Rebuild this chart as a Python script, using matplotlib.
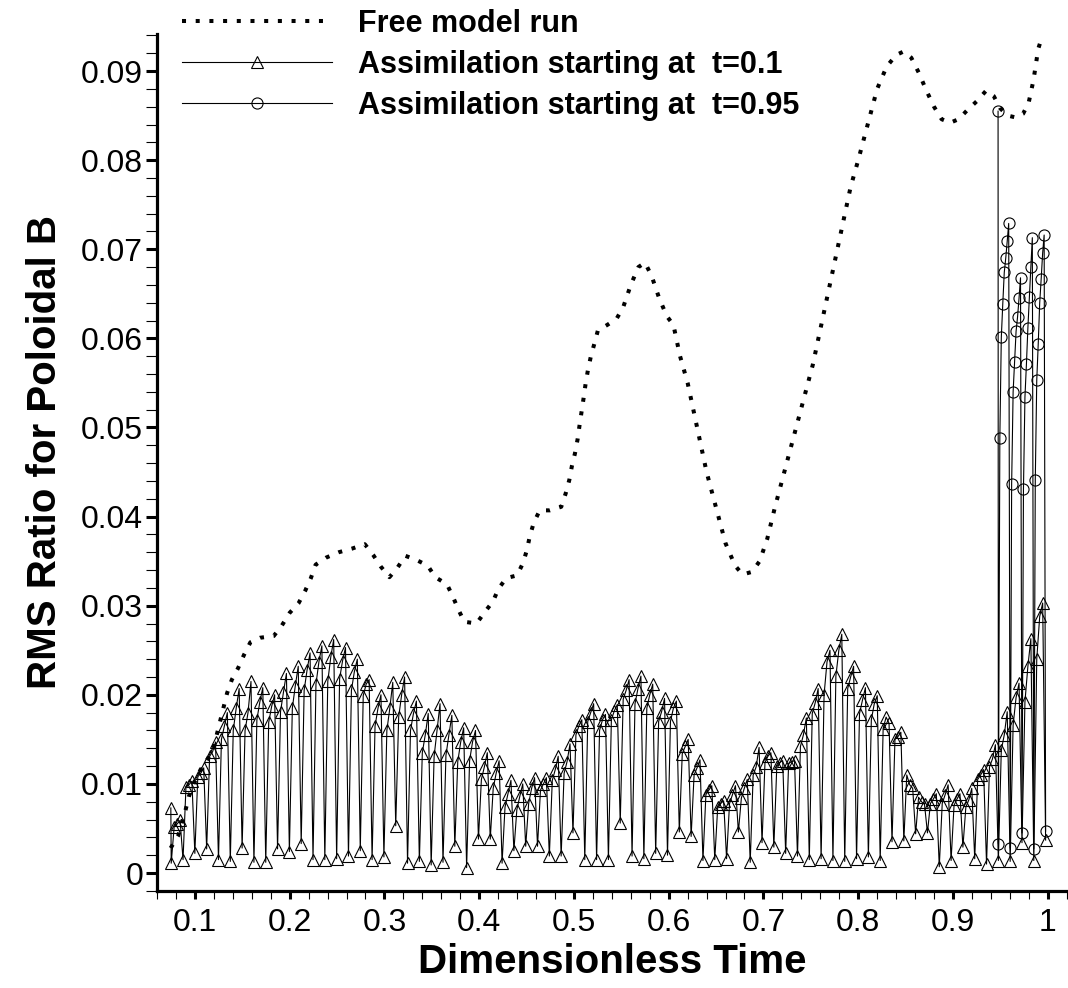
import numpy as np
import matplotlib
matplotlib.use("Agg")
import matplotlib.pyplot as plt
from matplotlib.ticker import MultipleLocator, FuncFormatter

plt.rcParams['font.family'] = ['Liberation Sans', 'DejaVu Sans']

### Free model run (dotted curve)
free_t = [0.0744, 0.0824, 0.0902, 0.0937, 0.0989, 0.106, 0.114, 0.120, 0.127, 0.134,
          0.139, 0.1456, 0.1519, 0.1586, 0.1687, 0.1832, 0.1919, 0.200, 0.2095, 0.2165,
          0.2224, 0.2274, 0.2386, 0.2519, 0.2656, 0.2793, 0.2881, 0.2961, 0.3053, 0.314,
          0.3221, 0.3344, 0.3456, 0.3537, 0.366, 0.3723, 0.3779, 0.3842, 0.3972, 0.406,
          0.4147, 0.4203, 0.4287, 0.440, 0.4463, 0.4505, 0.4534, 0.4576, 0.4639, 0.4747,
          0.4866, 0.4913, 0.4951, 0.4979, 0.5011, 0.5039, 0.506, 0.5081, 0.5102, 0.5123,
          0.5147, 0.5179, 0.5218, 0.5253, 0.535, 0.545, 0.552, 0.560, 0.568, 0.575,
          0.582, 0.590, 0.598, 0.605, 0.612, 0.620, 0.630, 0.640, 0.650, 0.660,
          0.670, 0.678, 0.688, 0.696, 0.704, 0.712, 0.722, 0.732, 0.742, 0.752,
          0.762, 0.772, 0.782, 0.792, 0.800, 0.810, 0.820, 0.830, 0.840, 0.848,
          0.856, 0.864, 0.872, 0.880, 0.888, 0.897, 0.906, 0.915, 0.925, 0.935,
          0.943, 0.950, 0.958, 0.966, 0.974, 0.980, 0.985, 0.990, 0.993]
free_rms = [0.0028, 0.0042, 0.0071, 0.0086, 0.0101, 0.0116, 0.0129, 0.0142, 0.0172, 0.0202,
            0.0217, 0.0230, 0.0245, 0.0259, 0.0264, 0.0266, 0.0278, 0.0292, 0.0303, 0.0317,
            0.0331, 0.0346, 0.0354, 0.0360, 0.0364, 0.0369, 0.0357, 0.0344, 0.0332, 0.0343,
            0.0356, 0.0351, 0.0345, 0.0332, 0.0324, 0.0310, 0.0296, 0.0282, 0.0280, 0.0293,
            0.0305, 0.0319, 0.0331, 0.0334, 0.0348, 0.0363, 0.0378, 0.0393, 0.0407, 0.0407,
            0.0411, 0.0426, 0.0441, 0.0457, 0.0471, 0.0487, 0.0503, 0.0518, 0.0533, 0.0549,
            0.0564, 0.0580, 0.0595, 0.0609, 0.0615, 0.0622, 0.0635, 0.0660, 0.0680, 0.0685,
            0.0670, 0.0645, 0.0625, 0.0615, 0.0580, 0.0550, 0.0500, 0.0450, 0.0410, 0.0370,
            0.0345, 0.0335, 0.0338, 0.0350, 0.0375, 0.0410, 0.0450, 0.0490, 0.0530, 0.0570,
            0.0620, 0.0670, 0.0720, 0.0770, 0.0800, 0.0840, 0.0880, 0.0905, 0.0918, 0.0922,
            0.0915, 0.0898, 0.0878, 0.0860, 0.0846, 0.0842, 0.0846, 0.0856, 0.0866, 0.0878,
            0.0872, 0.0858, 0.0850, 0.0848, 0.0852, 0.0865, 0.0890, 0.0925, 0.0935]

### Assimilation from t=0.1 : one analysis every cycle
cycle_start = 0.075
cycle_len = 0.01247
n_cycles = 75
tri_first = 0.0073
tri_low = [0.0011, 0.0015, 0.0022, 0.0027, 0.0015, 0.0013, 0.0028, 0.0012, 0.0012, 0.0027,
           0.0024, 0.0033, 0.0015, 0.0015, 0.0016, 0.0019, 0.0025, 0.0015, 0.0018, 0.0053,
           0.0011, 0.0013, 0.0009, 0.0012, 0.0030, 0.0006, 0.0038, 0.0038, 0.0011, 0.0025,
           0.0030, 0.0030, 0.0019, 0.0019, 0.0045, 0.0015, 0.0015, 0.0015, 0.0056, 0.0019,
           0.0016, 0.0022, 0.0020, 0.0046, 0.0041, 0.0014, 0.0015, 0.0016, 0.0046, 0.0012,
           0.0034, 0.0029, 0.0022, 0.0019, 0.0015, 0.0016, 0.0014, 0.0013, 0.0016, 0.0018,
           0.0014, 0.0035, 0.0036, 0.0044, 0.0045, 0.0007, 0.0014, 0.0029, 0.0016, 0.0010,
           0.0014, 0.0013, 0.0034, 0.0014, 0.0037]
tri_h1 = [0.0052, 0.0097, 0.0108, 0.0131, 0.0150, 0.0160, 0.0160, 0.0172, 0.0169, 0.0181,
          0.0185, 0.0205, 0.0212, 0.0215, 0.0218, 0.0205, 0.0199, 0.0165, 0.0160, 0.0175,
          0.0160, 0.0135, 0.0131, 0.0132, 0.0125, 0.0126, 0.0105, 0.0095, 0.0074, 0.0071,
          0.0078, 0.0093, 0.0104, 0.0112, 0.0155, 0.0170, 0.0160, 0.0172, 0.0195, 0.0190,
          0.0185, 0.0170, 0.0170, 0.0134, 0.0110, 0.0088, 0.0074, 0.0078, 0.0084, 0.0110,
          0.0124, 0.0120, 0.0123, 0.0142, 0.0179, 0.0200, 0.0221, 0.0207, 0.0179, 0.0172,
          0.0162, 0.0150, 0.0110, 0.0085, 0.0078, 0.0078, 0.0076, 0.0074, 0.0105, 0.0119,
          0.0138, 0.0166, 0.0192, 0.0240]
tri_h2 = [0.0055, 0.0099, 0.0112, 0.0136, 0.0165, 0.0185, 0.0180, 0.0192, 0.0187, 0.0203,
          0.0210, 0.0228, 0.0237, 0.0242, 0.0238, 0.0226, 0.0212, 0.0185, 0.0185, 0.0200,
          0.0179, 0.0155, 0.0160, 0.0155, 0.0147, 0.0147, 0.0119, 0.0112, 0.0089, 0.0086,
          0.0095, 0.0100, 0.0116, 0.0125, 0.0165, 0.0180, 0.0172, 0.0182, 0.0205, 0.0207,
          0.0200, 0.0181, 0.0185, 0.0142, 0.0118, 0.0093, 0.0078, 0.0088, 0.0095, 0.0119,
          0.0131, 0.0124, 0.0125, 0.0155, 0.0191, 0.0237, 0.0250, 0.0220, 0.0194, 0.0190,
          0.0175, 0.0153, 0.0099, 0.0080, 0.0083, 0.0088, 0.0083, 0.0082, 0.0110, 0.0128,
          0.0155, 0.0197, 0.0232, 0.0288]
tri_h3 = [0.0059, 0.0103, 0.0118, 0.0147, 0.0180, 0.0207, 0.0215, 0.0208, 0.0200, 0.0224,
          0.0232, 0.0247, 0.0255, 0.0262, 0.0253, 0.0240, 0.0217, 0.0200, 0.0214, 0.0220,
          0.0193, 0.0179, 0.0190, 0.0177, 0.0163, 0.0160, 0.0135, 0.0126, 0.0104, 0.0100,
          0.0107, 0.0107, 0.0131, 0.0145, 0.0172, 0.0190, 0.0178, 0.0189, 0.0217, 0.0221,
          0.0212, 0.0196, 0.0193, 0.0150, 0.0127, 0.0098, 0.0081, 0.0098, 0.0105, 0.0141,
          0.0135, 0.0126, 0.0126, 0.0174, 0.0207, 0.0250, 0.0268, 0.0232, 0.0208, 0.0199,
          0.0168, 0.0158, 0.0095, 0.0077, 0.0089, 0.0099, 0.0089, 0.0095, 0.0116, 0.0144,
          0.0181, 0.0213, 0.0263, 0.0303]

### Assimilation from t=0.95 (starts at cycle 70)
circ_first_cycle = 70
circ_first = 0.0855
circ_low = [0.0033, 0.0028, 0.0045, 0.0027, 0.0047]
circ_highs = [
    [0.0488, 0.0601, 0.0639, 0.0674, 0.0690, 0.0709, 0.0729],
    [0.0437, 0.0540, 0.0574, 0.0608, 0.0624, 0.0645, 0.0668],
    [0.0431, 0.0534, 0.0571, 0.0612, 0.0646, 0.0680, 0.0713],
    [0.0441, 0.0553, 0.0594, 0.0640, 0.0667, 0.0696, 0.0716],
]

x_ticks = [0.1, 0.2, 0.3, 0.4, 0.5, 0.6, 0.7, 0.8, 0.9, 1.0]
y_ticks = [0, 0.01, 0.02, 0.03, 0.04, 0.05, 0.06, 0.07, 0.08, 0.09]


# build the saw-tooth series: analysis value, then forecast values inside the cycle
cycle_t = cycle_start + cycle_len * np.arange(n_cycles)

tri_x = [cycle_t[0] - 0.0004]
tri_y = [tri_first]
step = cycle_len / 4
for k in range(n_cycles - 1):
    tri_x += [cycle_t[k], cycle_t[k] + step, cycle_t[k] + 2 * step, cycle_t[k] + 3 * step]
    tri_y += [tri_low[k], tri_h1[k], tri_h2[k], tri_h3[k]]
tri_x.append(cycle_t[-1])
tri_y.append(tri_low[-1])

circ_x = [cycle_t[circ_first_cycle] - 0.0003]
circ_y = [circ_first]
cstep = cycle_len / 8
for i, highs in enumerate(circ_highs):
    t0 = cycle_t[circ_first_cycle + i]
    circ_x.append(t0)
    circ_y.append(circ_low[i])
    for j, h in enumerate(highs):
        circ_x.append(t0 + (j + 1) * cstep)
        circ_y.append(h)
circ_x.append(cycle_t[circ_first_cycle + len(circ_highs)])
circ_y.append(circ_low[-1])


fig = plt.figure(figsize=(10.68, 9.88), dpi=100)
ax = fig.add_axes([157 / 1068, 97 / 988, 911 / 1068, 857 / 988])

free_line, = ax.plot(free_t, free_rms, color="black", lw=2.9, linestyle=(0, (1, 2.4)),
                     label="Free model run")
tri_line, = ax.plot(tri_x, tri_y, color="black", lw=0.8, marker="^", ms=8,
                    mfc="none", mec="black", mew=0.8,
                    label="Assimilation starting at  t=0.1")
circ_line, = ax.plot(circ_x, circ_y, color="black", lw=0.8, marker="o", ms=8,
                     mfc="none", mec="black", mew=0.8,
                     label="Assimilation starting at  t=0.95")

ax.set_xlim(0.06, 1.0214)
ax.set_ylim(-0.00202, 0.09416)

ax.set_xticks(x_ticks)
ax.set_yticks(y_ticks)
ax.xaxis.set_minor_locator(MultipleLocator(0.02))
ax.yaxis.set_minor_locator(MultipleLocator(0.002))
ax.xaxis.set_major_formatter(FuncFormatter(lambda v, p: "%g" % round(v, 3)))
ax.yaxis.set_major_formatter(FuncFormatter(lambda v, p: "%g" % round(v, 4)))

for s in ["top", "right"]:
    ax.spines[s].set_visible(False)
for s in ["left", "bottom"]:
    ax.spines[s].set_linewidth(2.3)

ax.tick_params(axis="y", which="major", direction="out", length=8, width=2.2, labelsize=23, pad=2)
ax.tick_params(axis="y", which="minor", direction="out", length=8, width=0.8)
ax.tick_params(axis="x", which="major", direction="out", length=6, width=2.2, labelsize=23, pad=6)
ax.tick_params(axis="x", which="minor", direction="out", length=6, width=0.8)

ax.set_xlabel("Dimensionless Time", fontsize=29, fontweight="bold")
ax.xaxis.set_label_coords(0.5, -0.083)
ax.xaxis.label.set_va("center")
ax.set_ylabel("RMS Ratio for Poloidal B", fontsize=29, fontweight="bold")
ax.yaxis.set_label_coords(-0.123, 0.512)
ax.yaxis.label.set_va("center")

leg = ax.legend(handles=[free_line, tri_line, circ_line], loc="upper left",
                bbox_to_anchor=(182 / 1068, 1 - 9 / 988), bbox_transform=fig.transFigure,
                frameon=False, numpoints=1, handlelength=4.9, handletextpad=0.85,
                labelspacing=0.36, borderpad=0, borderaxespad=0,
                prop={"size": 22, "weight": "bold"})

fig.savefig("out.png", dpi=100)
